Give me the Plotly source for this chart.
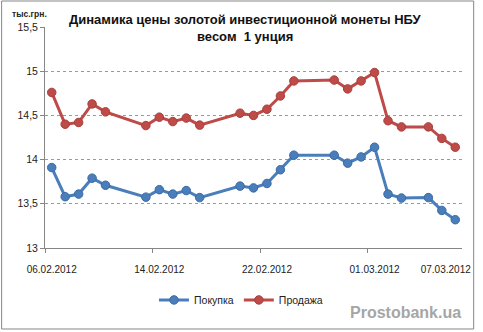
import plotly.graph_objects as go

# Trading dates (Ukraine, 2012; 03.03 was a working Saturday)
dates = [
    "2012-02-06", "2012-02-07", "2012-02-08", "2012-02-09", "2012-02-10",
    "2012-02-13", "2012-02-14", "2012-02-15", "2012-02-16", "2012-02-17",
    "2012-02-20", "2012-02-21", "2012-02-22", "2012-02-23", "2012-02-24",
    "2012-02-27", "2012-02-28", "2012-02-29", "2012-03-01", "2012-03-02",
    "2012-03-03", "2012-03-05", "2012-03-06", "2012-03-07",
]

# Buy price, thousand UAH
buy = [
    13.91, 13.58, 13.61, 13.79, 13.71,
    13.575, 13.66, 13.61, 13.65, 13.57,
    13.70, 13.68, 13.73, 13.885, 14.05,
    14.05, 13.96, 14.03, 14.14, 13.61,
    13.565, 13.57, 13.425, 13.32,
]

# Sell price, thousand UAH
sell = [
    14.76, 14.40, 14.42, 14.63, 14.54,
    14.385, 14.48, 14.43, 14.47, 14.39,
    14.525, 14.50, 14.57, 14.72, 14.89,
    14.90, 14.80, 14.89, 14.985, 14.44,
    14.37, 14.37, 14.24, 14.14,
]

x_tick_vals = ["2012-02-06", "2012-02-14", "2012-02-22", "2012-03-01", "2012-03-06 07:00"]
x_tick_text = ["06.02.2012", "14.02.2012", "22.02.2012", "01.03.2012", "07.03.2012"]

BLUE = "#4a7ebb"
RED = "#be4b48"
AXIS = "#868686"
FONT = "Liberation Sans"

fig = go.Figure()
fig.add_trace(go.Scatter(
    x=dates, y=buy, name="Покупка", mode="lines+markers",
    line=dict(color=BLUE, width=3),
    marker=dict(symbol="circle", size=8.5, color=BLUE, line=dict(color="#3a6aa5", width=1)),
))
fig.add_trace(go.Scatter(
    x=dates, y=sell, name="Продажа", mode="lines+markers",
    line=dict(color=RED, width=3),
    marker=dict(symbol="circle", size=8.5, color=RED, line=dict(color="#a8403d", width=1)),
))

fig.update_layout(
    width=483, height=332,
    margin=dict(l=45, r=15, t=27, b=84),
    paper_bgcolor="white", plot_bgcolor="white",
    separators=", ",
    font=dict(family=FONT, size=10, color="#222222"),
    showlegend=True,
    legend=dict(
        orientation="h", x=0.47, xanchor="center", y=-0.235, yanchor="middle",
        font=dict(size=10.5, color="#222222"), itemwidth=30,
    ),
    xaxis=dict(
        type="date",
        range=["2012-02-05 12:00", "2012-03-07 12:00"],
        tickmode="array", tickvals=x_tick_vals, ticktext=x_tick_text,
        ticks="", showgrid=False, ticklabelstandoff=12,
        showline=True, linecolor=AXIS, linewidth=1,
        tickfont=dict(size=10, color="#222222"),
        minor=dict(ticks="outside", ticklen=4, tickcolor=AXIS,
                   tick0="2012-02-05 12:00", dtick=8 * 86400000, showgrid=False),
    ),
    yaxis=dict(
        range=[13, 15.5], dtick=0.5, tick0=13,
        showgrid=True, gridcolor="#9a9a9a", gridwidth=1, griddash="dot",
        showline=True, linecolor=AXIS, linewidth=1,
        ticks="outside", ticklen=4, tickcolor=AXIS,
        tickfont=dict(size=10.5, color="#222222"),
        zeroline=False,
    ),
)

fig.add_annotation(
    text="<b>Динамика цены золотой инвестиционной монеты НБУ</b>",
    xref="paper", yref="paper", x=0.48, y=1.032, showarrow=False,
    font=dict(family=FONT, size=13, color="#111111"),
    xanchor="center", yanchor="middle",
)
fig.add_annotation(
    text="<b>весом  1 унция</b>",
    xref="paper", yref="paper", x=0.48, y=0.955, showarrow=False,
    font=dict(family=FONT, size=13, color="#111111"),
    xanchor="center", yanchor="middle",
)
fig.add_annotation(
    text="<b>тыс.грн.</b>",
    xref="paper", yref="paper", x=-0.038, y=1.059, showarrow=False,
    font=dict(family=FONT, size=8.5, color="#222222"),
    xanchor="center", yanchor="middle",
)
fig.add_annotation(
    text="<b>Prostobank.ua</b>",
    xref="paper", yref="paper", x=0.865, y=-0.294, showarrow=False,
    font=dict(family=FONT, size=16, color="#a6a6a6"),
    xanchor="center", yanchor="middle",
)

# Outer chart frame
fig.add_shape(
    type="rect", xref="paper", yref="paper",
    x0=-0.104, x1=1.028, y0=-0.3665, y1=1.1176,
    line=dict(color=AXIS, width=1), fillcolor="rgba(0,0,0,0)", layer="below",
)

fig.write_html("out.html")
